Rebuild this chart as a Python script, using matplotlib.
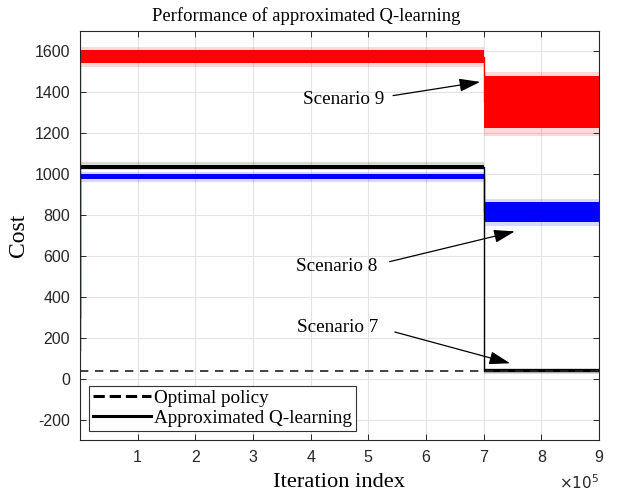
import matplotlib
matplotlib.use("Agg")
import matplotlib.pyplot as plt
import numpy as np

plt.rcParams['axes.unicode_minus'] = False
serif = ['Liberation Serif', 'DejaVu Serif']
sans = ['Liberation Sans', 'DejaVu Sans']

# breakpoints of the iteration axis (before / after the change at 7e5)
x_seg = [0, 7e5, 9e5]

# scenario 9 (red): start value, core band and spike envelope per segment
s9_start = 1040
s9_lo = [1542, 1225]
s9_hi = [1605, 1482]
s9_spike_lo = [1525, 1185]
s9_spike_hi = [1622, 1500]

# scenario 8 (blue)
s8_start = 300
s8_lo = [974, 764]
s8_hi = [1002, 864]
s8_spike_lo = [962, 748]
s8_spike_hi = [1012, 878]

# scenario 7 (black)
s7_start = 140
s7_lo = [1023, 31]
s7_hi = [1045, 47]
s7_spike_lo = [1020, 24]
s7_spike_hi = [1060, 54]

optimal = [38, 38]

# annotation labels: text position, arrow tail, arrow tip
ann_text = ['Scenario 9', 'Scenario 8', 'Scenario 7']
ann_pos = [(4.58e5, 1367), (4.46e5, 546), (4.46e5, 252)]
ann_tail = [(5.43e5, 1384), (5.37e5, 572), (5.46e5, 228)]
ann_tip = [(6.94e5, 1451), (7.54e5, 720), (7.46e5, 75)]

xticks = [1, 2, 3, 4, 5, 6, 7, 8, 9]
yticks = [-200, 0, 200, 400, 600, 800, 1000, 1200, 1400, 1600]

fig = plt.figure(figsize=(6.18, 4.98), dpi=100)
ax = fig.add_axes([0.1294, 0.1165, 0.8398, 0.8213])


def draw(start, lo, hi, slo, shi, color, lw):
    xs = np.array(x_seg)
    lo2 = lo + [lo[-1]]
    hi2 = hi + [hi[-1]]
    slo2 = slo + [slo[-1]]
    shi2 = shi + [shi[-1]]
    ax.fill_between(xs, slo2, shi2, step='post', color=color, alpha=0.15, lw=0)
    ax.fill_between(xs, lo2, hi2, step='post', color=color, lw=0)
    mid = [(a + b) / 2 for a, b in zip(lo, hi)]
    ax.plot([0, 0, x_seg[1], x_seg[1], x_seg[2]],
            [start, mid[0], mid[0], mid[1], mid[1]], color=color, lw=lw)


draw(s9_start, s9_lo, s9_hi, s9_spike_lo, s9_spike_hi, 'red', 1.0)
draw(s8_start, s8_lo, s8_hi, s8_spike_lo, s8_spike_hi, 'blue', 1.0)
draw(s7_start, s7_lo, s7_hi, s7_spike_lo, s7_spike_hi, 'black', 1.0)

ax.plot([x_seg[0], x_seg[2]], optimal, color='#222222', ls=(0, (5, 4)), lw=1.2)

# legend handles
h1, = ax.plot([], [], 'k--', lw=2.2, label='Optimal policy')
h2, = ax.plot([], [], 'k-', lw=2.2, label='Approximated Q-learning')
leg = ax.legend(handles=[h1, h2], loc='lower left', bbox_to_anchor=(0.018, 0.022),
                borderaxespad=0, fancybox=False, framealpha=1, edgecolor='#333333',
                prop={'family': serif, 'size': 13.8}, handlelength=3.0,
                handletextpad=0.2, borderpad=0.2, labelspacing=0.15)
leg.get_frame().set_linewidth(0.8)

# annotations
for txt, pos, tail, tip in zip(ann_text, ann_pos, ann_tail, ann_tip):
    ax.text(pos[0], pos[1], txt, ha='center', va='center', fontsize=13.8, family=serif)
    ax.annotate('', xy=tip, xytext=tail,
                arrowprops=dict(arrowstyle='-|>,head_length=0.8,head_width=0.25',
                                color='black', lw=0.9, mutation_scale=16,
                                shrinkA=0, shrinkB=0))

ax.set_xlim(0, 9e5)
ax.set_ylim(-300, 1700)
ax.set_xticks([t * 1e5 for t in xticks])
ax.set_xticklabels([str(t) for t in xticks])
ax.set_yticks(yticks)
ax.set_yticklabels([str(t) for t in yticks])
for lab in ax.get_xticklabels() + ax.get_yticklabels():
    lab.set_family(sans)
    lab.set_fontsize(11.5)
    lab.set_color('#262626')
ax.tick_params(direction='in', top=True, right=True, length=4, width=0.7,
               colors='#262626', pad=7)
ax.grid(True, color='#e3e3e3', lw=0.8)
ax.set_axisbelow(True)
for s in ax.spines.values():
    s.set_color('#262626')
    s.set_linewidth(0.8)

fig.text(0.495, 0.968, 'Performance of approximated Q-learning', family=serif,
         fontsize=13.4, ha='center', va='center')
ax.set_xlabel('Iteration index', family=serif, fontsize=16.2, labelpad=6)
ax.set_ylabel('Cost', family=serif, fontsize=17, labelpad=4)
ax.text(1.0, -0.082, r'$\times10^{5}$', transform=ax.transAxes, ha='right', va='top',
        family=sans, fontsize=11, color='#262626')

fig.savefig('out.png', dpi=100)
